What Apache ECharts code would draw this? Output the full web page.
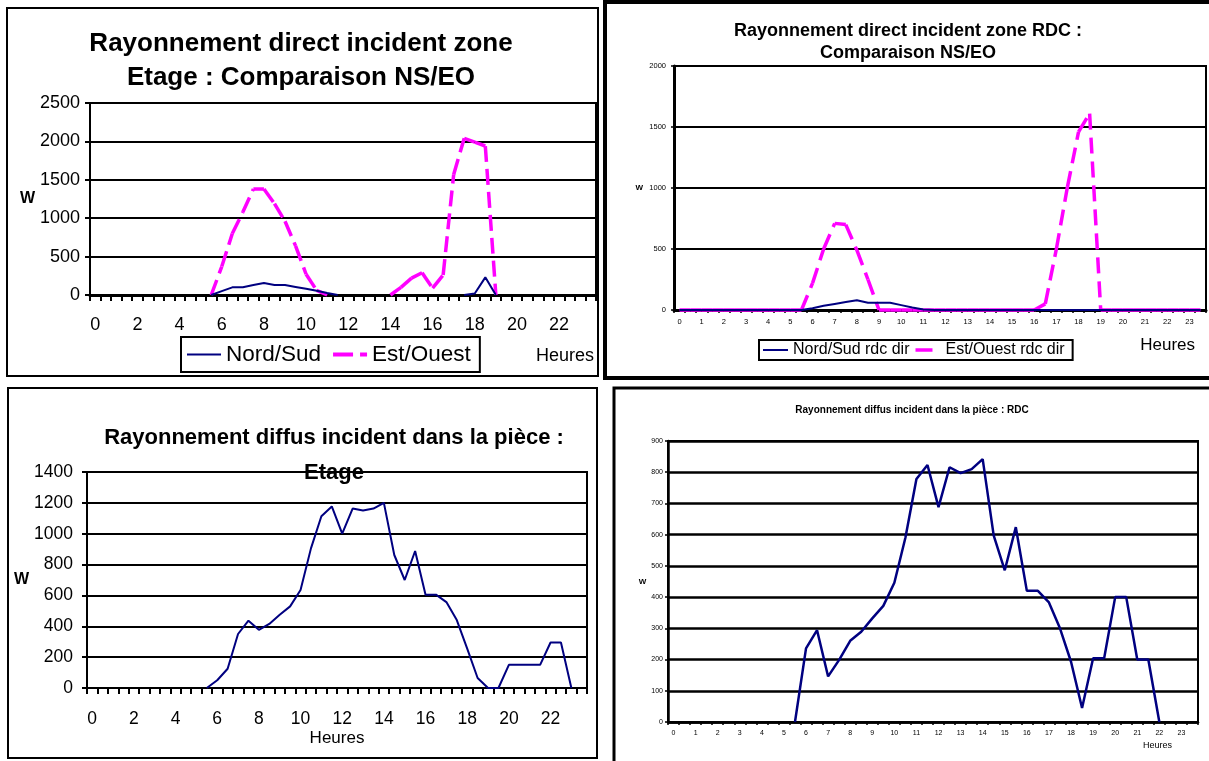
<!DOCTYPE html>
<html><head><meta charset="utf-8">
<script src="https://cdn.jsdelivr.net/npm/echarts@6/dist/echarts.min.js"></script>
<style>html,body{margin:0;padding:0;background:#fff}#c{width:1209px;height:761px}</style>
</head><body><div id="c"></div>
<script>
// half-hour categories
const hours = ['0','0.5','1','1.5','2','2.5','3','3.5','4','4.5','5','5.5','6','6.5','7','7.5','8','8.5','9','9.5','10','10.5','11','11.5','12','12.5','13','13.5','14','14.5','15','15.5','16','16.5','17','17.5','18','18.5','19','19.5','20','20.5','21','21.5','22','22.5','23','23.5'];

// Panel 1 : direct, Etage
const etageNS = [null,null,null,null,null,null,null,null,null,null,null,0,50,100,100,130,155,130,130,105,80,55,25,0,null,null,null,null,null,null,null,null,null,null,null,0,20,230,0,null,null,null,null,null,null,null,null,null];
const etageEO = [null,null,null,null,null,null,null,null,null,null,null,0,370,800,1080,1380,1380,1190,960,640,270,60,0,null,null,null,null,null,0,100,220,290,90,260,1570,2040,1990,1940,0,null,null,null,null,null,null,null,null,null];

// Panel 2 : direct, RDC
const rdcNS = [0,0,0,0,0,0,0,0,0,0,0,0,15,35,50,65,80,60,60,60,40,20,5,0,0,0,0,0,0,0,0,0,0,0,0,0,0,0,0,0,0,0,0,0,0,0,0,0];
const rdcEO = [0,0,0,0,0,0,0,0,0,0,0,0,220,500,710,700,490,250,0,0,0,0,0,0,0,0,0,0,0,0,0,0,0,50,500,1010,1460,1610,0,0,0,0,0,0,0,0,0,0];

// Panel 3 : diffus, Etage
const etageDiff = [null,null,null,null,null,null,null,null,null,null,null,0,50,125,350,436,377,415,475,529,635,905,1113,1177,1000,1163,1150,1163,1200,862,700,888,605,605,557,440,255,65,0,0,150,150,150,150,295,295,0,null];

// Panel 4 : diffus, RDC
const rdcDiff = [null,null,null,null,null,null,null,null,null,null,null,0,236,294,146,199,260,289,332,372,446,590,778,823,688,816,797,810,842,597,486,624,420,420,383,300,193,45,204,204,400,400,200,200,0,null,null,null];

const F = 'Liberation Sans, Arial, sans-serif';
const NAVY = '#000080', MAG = '#ff00ff', K = '#000';
const fmtHour = v => String(parseFloat(v));
const fmtVal = v => String(v);

function xAx(gi, o) {
  return {
    type: 'category', gridIndex: gi, data: hours, boundaryGap: true,
    axisLine: {show: true, onZero: false, lineStyle: {color: K, width: o.aw}},
    axisTick: {show: true, interval: 0, length: o.tl, lineStyle: {color: K, width: o.tw}},
    axisLabel: {interval: o.li, margin: o.lm, fontSize: o.fs, color: K, fontFamily: F, formatter: fmtHour},
    splitLine: {show: false},
    name: 'Heures', nameLocation: o.nl, nameGap: o.ng,
    nameTextStyle: Object.assign({fontSize: o.nfs, color: K, fontFamily: F}, o.nts || {})
  };
}
function yAx(gi, o) {
  return {
    type: 'value', gridIndex: gi, min: 0, max: o.max, interval: o.iv,
    axisLine: {show: true, lineStyle: {color: K, width: o.aw}},
    axisTick: {show: true, length: o.tl, lineStyle: {color: K, width: o.tw}},
    axisLabel: {margin: o.lm, fontSize: o.fs, color: K, fontFamily: F, formatter: fmtVal},
    splitLine: {show: true, lineStyle: {color: K, width: o.sw}},
    name: 'W', nameLocation: 'middle', nameRotate: 0, nameGap: o.ng,
    nameTextStyle: {fontSize: o.nfs, fontWeight: 'bold', color: K, fontFamily: F}
  };
}
function ln(name, gi, data, color, width) {
  return {
    type: 'line', name: name, xAxisIndex: gi, yAxisIndex: gi, data: data,
    symbol: 'none', connectNulls: false,
    lineStyle: {color: color, width: width},
    itemStyle: {color: color}
  };
}
// dashed line whose dash pattern restarts at every vertex (like the spreadsheet "long dash")
function dashed(name, gi, data, color, width, dash) {
  const segs = [];
  for (let i = 0; i + 1 < data.length; i++) {
    if (data[i] != null && data[i + 1] != null) segs.push([i, data[i], i + 1, data[i + 1]]);
  }
  return {
    type: 'custom', name: name, xAxisIndex: gi, yAxisIndex: gi, data: segs,
    encode: {x: [0, 2], y: [1, 3]},
    itemStyle: {color: color},
    renderItem: function (params, api) {
      const p1 = api.coord([api.value(0), api.value(1)]);
      const p2 = api.coord([api.value(2), api.value(3)]);
      return {type: 'line', shape: {x1: p1[0], y1: p1[1], x2: p2[0], y2: p2[1]},
              style: {stroke: color, lineWidth: width, lineDash: dash, lineCap: 'butt', fill: null}};
    }
  };
}

const option = {
  animation: false,
  backgroundColor: '#fff',
  title: [
    {text: 'Rayonnement direct incident zone\nEtage : Comparaison NS/EO', left: 301, top: 27, textAlign: 'center', padding: 0,
     textStyle: {fontSize: 26, fontWeight: 'bold', color: K, fontFamily: F, lineHeight: 34}},
    {text: 'Rayonnement direct incident zone RDC :\nComparaison NS/EO', left: 908, top: 20, textAlign: 'center', padding: 0,
     textStyle: {fontSize: 18, fontWeight: 'bold', color: K, fontFamily: F, lineHeight: 22}},
    {text: 'Rayonnement diffus incident dans la pièce :\nEtage', left: 334, top: 420, textAlign: 'center', padding: 0,
     textStyle: {fontSize: 22, fontWeight: 'bold', color: K, fontFamily: F, lineHeight: 35}},
    {text: 'Rayonnement diffus incident dans la pièce : RDC', left: 912, top: 404, textAlign: 'center', padding: 0,
     textStyle: {fontSize: 10, fontWeight: 'bold', color: K, fontFamily: F, lineHeight: 12}}
  ],
  legend: [
    {data: [{name: 'Nord/Sud', icon: 'path://M0,0h34v2h-34z'},
            {name: 'Est/Ouest', icon: 'path://M0,0h20v4h-20z M27,0h7v4h-7z'}],
     left: 181, top: 337, padding: [6, 9, 6, 6], itemGap: 12, itemWidth: 34, itemHeight: 14,
     borderColor: K, borderWidth: 2, textStyle: {fontSize: 22.5, color: K, fontFamily: F}},
    {data: [{name: 'Nord/Sud rdc dir', icon: 'path://M0,0h25v2h-25z'},
            {name: 'Est/Ouest rdc dir', icon: 'path://M0,0h17v3.5h-17z M25,0v0'}],
     left: 759, top: 340, padding: [2, 8, 2, 4], itemGap: 6, itemWidth: 25, itemHeight: 12,
     borderColor: K, borderWidth: 2, textStyle: {fontSize: 16, color: K, fontFamily: F}}
  ],
  grid: [
    {left: 90, top: 103, width: 506, height: 192, show: true, borderColor: K, borderWidth: 2, backgroundColor: 'transparent'},
    {left: 674, top: 66, width: 532, height: 244, show: true, borderColor: K, borderWidth: 2, backgroundColor: 'transparent'},
    {left: 87, top: 472, width: 500, height: 216, show: true, borderColor: K, borderWidth: 2, backgroundColor: 'transparent'},
    {left: 668, top: 441, width: 530, height: 281, show: true, borderColor: K, borderWidth: 2, backgroundColor: 'transparent'}
  ],
  xAxis: [
    xAx(0, {aw: 3, tl: 6, tw: 2, li: 3, lm: 21, fs: 18, nl: 'end', ng: -2, nfs: 18,
            nts: {align: 'right', verticalAlign: 'top', padding: [52, 0, 0, 0]}}),
    xAx(1, {aw: 3, tl: 3, tw: 1.5, li: 1, lm: 8, fs: 7.5, nl: 'end', ng: -11, nfs: 17,
            nts: {align: 'right', verticalAlign: 'top', padding: [27, 0, 0, 0]}}),
    xAx(2, {aw: 2, tl: 6, tw: 2, li: 3, lm: 22, fs: 17.5, nl: 'middle', ng: 42, nfs: 17}),
    xAx(3, {aw: 2.5, tl: 3, tw: 1.5, li: 1, lm: 8, fs: 7, nl: 'end', ng: -26, nfs: 9,
            nts: {align: 'right', verticalAlign: 'top', padding: [19, 0, 0, 0]}})
  ],
  yAxis: [
    yAx(0, {max: 2500, iv: 500, aw: 2, tl: 5, tw: 2, lm: 10, fs: 18, sw: 2, ng: 54, nfs: 16}),
    yAx(1, {max: 2000, iv: 500, aw: 3, tl: 3, tw: 1.5, lm: 8, fs: 7.5, sw: 2, ng: 31, nfs: 8}),
    yAx(2, {max: 1400, iv: 200, aw: 2, tl: 5, tw: 2, lm: 14, fs: 17.5, sw: 2, ng: 52, nfs: 16}),
    yAx(3, {max: 900, iv: 100, aw: 2.5, tl: 3, tw: 1.5, lm: 5, fs: 7, sw: 2.5, ng: 20, nfs: 8})
  ],
  series: [
    ln('Nord/Sud', 0, etageNS, NAVY, 2),
    dashed('Est/Ouest', 0, etageEO, MAG, 3.5, [16, 7]),
    ln('Nord/Sud rdc dir', 1, rdcNS, NAVY, 2),
    dashed('Est/Ouest rdc dir', 1, rdcEO, MAG, 3.5, [16, 8]),
    ln('Diffus Etage', 2, etageDiff, NAVY, 2),
    ln('Diffus RDC', 3, rdcDiff, NAVY, 2.5)
  ],
  graphic: [
    {type: 'rect', shape: {x: 7, y: 8, width: 591, height: 368}, style: {fill: 'none', stroke: K, lineWidth: 2}, silent: true},
    {type: 'rect', shape: {x: 605, y: 2, width: 606, height: 376}, style: {fill: 'none', stroke: K, lineWidth: 4}, silent: true},
    {type: 'rect', shape: {x: 8, y: 388, width: 589, height: 370}, style: {fill: 'none', stroke: K, lineWidth: 2}, silent: true},
    {type: 'rect', shape: {x: 614, y: 388, width: 600, height: 380}, style: {fill: 'none', stroke: K, lineWidth: 3}, silent: true}
  ]
};
const chart = echarts.init(document.getElementById('c'));
chart.setOption(option);
</script>
</body></html>
